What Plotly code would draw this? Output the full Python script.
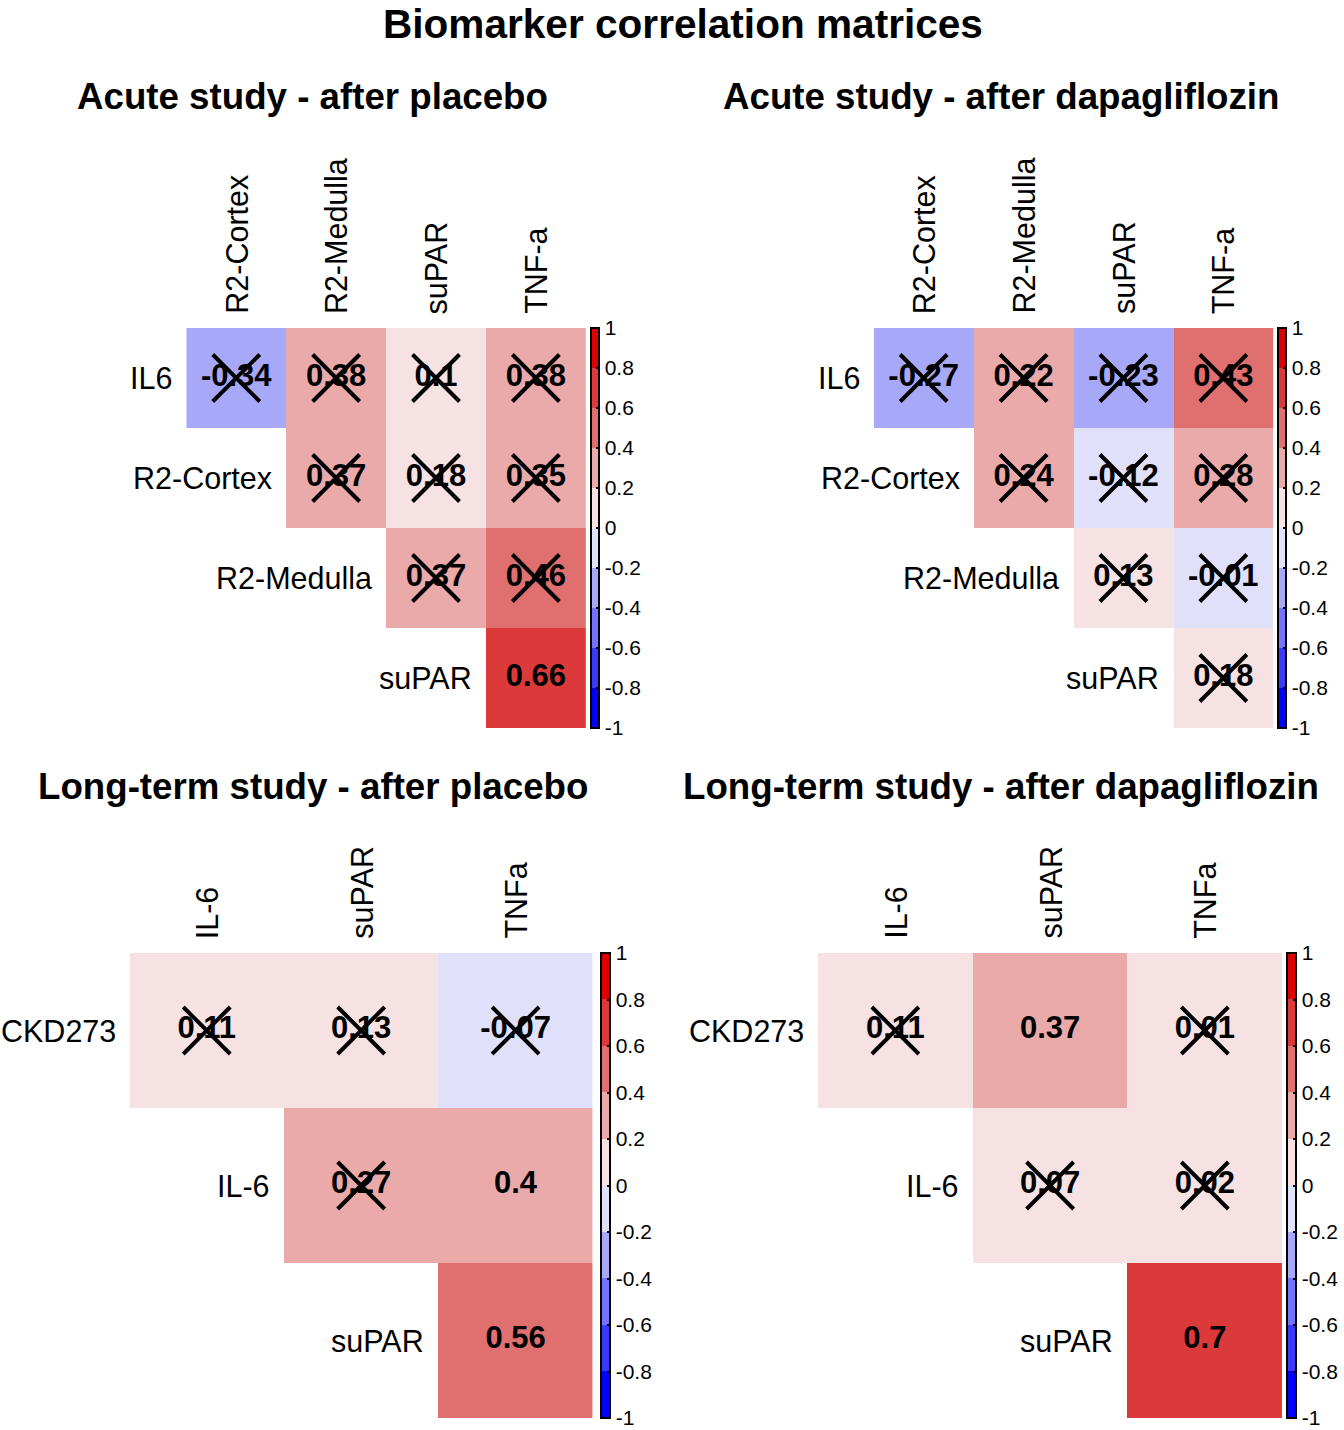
import plotly.graph_objects as go

# ---------------- data ----------------
acute_rows = ["IL6", "R2-Cortex", "R2-Medulla", "suPAR"]
acute_cols = ["R2-Cortex", "R2-Medulla", "suPAR", "TNF-a"]
long_rows = ["CKD273", "IL-6", "suPAR"]
long_cols = ["IL-6", "suPAR", "TNFa"]

acute_placebo_r = [[-0.34, 0.38, 0.1, 0.38],
                   [None, 0.37, 0.18, 0.35],
                   [None, None, 0.37, 0.46],
                   [None, None, None, 0.66]]
acute_placebo_sig = [[0, 0, 0, 0],
                     [None, 0, 0, 0],
                     [None, None, 0, 0],
                     [None, None, None, 1]]

acute_dapa_r = [[-0.27, 0.22, -0.23, 0.43],
                [None, 0.24, -0.12, 0.28],
                [None, None, 0.13, -0.01],
                [None, None, None, 0.18]]
acute_dapa_sig = [[0, 0, 0, 0],
                  [None, 0, 0, 0],
                  [None, None, 0, 0],
                  [None, None, None, 0]]

long_placebo_r = [[0.11, 0.13, -0.07],
                  [None, 0.27, 0.4],
                  [None, None, 0.56]]
long_placebo_sig = [[0, 0, 0],
                    [None, 0, 1],
                    [None, None, 1]]

long_dapa_r = [[0.11, 0.37, 0.01],
               [None, 0.07, 0.02],
               [None, None, 0.7]]
long_dapa_sig = [[0, 1, 0],
                 [None, 0, 0],
                 [None, None, 1]]

titles = ["Acute study - after placebo", "Acute study - after dapagliflozin",
          "Long-term study - after placebo", "Long-term study - after dapagliflozin"]
main_title = "Biomarker correlation matrices"
cbar_ticks = [1, 0.8, 0.6, 0.4, 0.2, 0, -0.2, -0.4, -0.6, -0.8, -1]
cbar_ticktext = ["1", "0.8", "0.6", "0.4", "0.2", "0", "-0.2", "-0.4", "-0.6", "-0.8", "-1"]

# ---------------- style ----------------
W, H = 1344, 1430
FONT = "Liberation Sans, Arial, Helvetica, sans-serif"
bin_colors = ["#0000FF", "#3A3AFF", "#7373FF", "#A8A8F8", "#E0E0FA",
              "#F6E2E2", "#EAAAAA", "#E07070", "#DC3A3A", "#DD0000"]
EPS = 1e-4
colorscale = []
for i, c in enumerate(bin_colors):
    colorscale.append([0.0 if i == 0 else i / 10 + EPS, c])
    colorscale.append([(i + 1) / 10, c])


def px(x):
    return x / W


def py(y):
    return 1 - y / H


panels = [
    dict(rows=acute_rows, cols=acute_cols, r=acute_placebo_r, sig=acute_placebo_sig,
         box=(187, 588, 328, 728), cbx=593, cbw=8, title_x=314, title_y=96),
    dict(rows=acute_rows, cols=acute_cols, r=acute_dapa_r, sig=acute_dapa_sig,
         box=(877, 1278, 328, 728), cbx=1283, cbw=8, title_x=1005, title_y=96),
    dict(rows=long_rows, cols=long_cols, r=long_placebo_r, sig=long_placebo_sig,
         box=(130, 595, 953, 1418), cbx=603, cbw=9, title_x=314, title_y=786),
    dict(rows=long_rows, cols=long_cols, r=long_dapa_r, sig=long_dapa_sig,
         box=(821, 1287, 953, 1418), cbx=1292, cbw=9, title_x=1005, title_y=786),
]

fig = go.Figure()
annotations = []
layout_axes = {}

for k, p in enumerate(panels):
    n = k + 1
    xa = "x" if n == 1 else f"x{n}"
    ya = "y" if n == 1 else f"y{n}"
    x0, x1, y0, y1 = p["box"]
    nr, nc = len(p["rows"]), len(p["cols"])
    xs = list(range(nc))
    ys = list(range(nr))

    fig.add_trace(go.Heatmap(
        z=p["r"], x=xs, y=ys, xaxis=xa, yaxis=ya,
        zmin=-1, zmax=1, colorscale=colorscale, hoverongaps=False,
        colorbar=dict(
            x=px(p["cbx"]), xanchor="left", xpad=0,
            y=py(y0), yanchor="top", ypad=0,
            len=(y1 - y0) / H, lenmode="fraction",
            thickness=p["cbw"], thicknessmode="pixels",
            outlinecolor="black", outlinewidth=2,
            tickvals=cbar_ticks, ticktext=cbar_ticktext,
            ticks="inside", ticklen=4, tickcolor="black", tickwidth=1.5,
            tickfont=dict(family=FONT, size=21, color="black"),
        ),
    ))

    tx, ty, tt, cx, cy = [], [], [], [], []
    for i in range(nr):
        for j in range(nc):
            v = p["r"][i][j]
            if v is None:
                continue
            tx.append(j); ty.append(i); tt.append(str(v))
            if p["sig"][i][j] == 0:
                cx.append(j); cy.append(i)

    fig.add_trace(go.Scatter(
        x=tx, y=ty, text=tt, mode="text", xaxis=xa, yaxis=ya,
        textfont=dict(family=FONT, size=31, color="black", weight="bold"),
        textposition="middle center", showlegend=False, hoverinfo="skip",
    ))
    fig.add_trace(go.Scatter(
        x=cx, y=cy, mode="markers", xaxis=xa, yaxis=ya,
        marker=dict(symbol="x-thin-open", size=47, color="black",
                    line=dict(width=4, color="black")),
        showlegend=False, hoverinfo="skip",
    ))

    axname_x = "xaxis" if n == 1 else f"xaxis{n}"
    axname_y = "yaxis" if n == 1 else f"yaxis{n}"
    layout_axes[axname_x] = dict(domain=[px(x0), px(x1)], range=[-0.5, nc - 0.5],
                                 showgrid=False, zeroline=False, showticklabels=False,
                                 ticks="", fixedrange=True, anchor=ya)
    layout_axes[axname_y] = dict(domain=[py(y1), py(y0)], range=[nr - 0.5, -0.5],
                                 showgrid=False, zeroline=False, showticklabels=False,
                                 ticks="", fixedrange=True, anchor=xa)

    # row labels (diagonal)
    for i, lab in enumerate(p["rows"]):
        annotations.append(dict(x=i - 0.5, y=i, xref=xa, yref=ya, text=lab,
                                showarrow=False, xanchor="right", yanchor="middle",
                                xshift=-12, font=dict(family=FONT, size=30.5, color="black")))
    # column labels (rotated)
    for j, lab in enumerate(p["cols"]):
        annotations.append(dict(x=j, y=-0.5, xref=xa, yref=ya, text=lab,
                                showarrow=False, textangle=-90, xanchor="center",
                                yanchor="bottom", yshift=12,
                                font=dict(family=FONT, size=30.5, color="black")))
    # panel title
    annotations.append(dict(x=px(p["title_x"]), y=py(p["title_y"]), xref="paper",
                            yref="paper", text=f"<b>{titles[k]}</b>", showarrow=False,
                            xanchor="center", yanchor="middle",
                            font=dict(family=FONT, size=36.7, color="black")))

annotations.append(dict(x=px(686), y=1, xref="paper", yref="paper",
                        text=f"<b>{main_title}</b>", showarrow=False,
                        xanchor="center", yanchor="top", borderpad=0,
                        font=dict(family=FONT, size=40.6, color="black")))

fig.update_layout(
    width=W, height=H,
    margin=dict(l=0, r=0, t=0, b=0),
    paper_bgcolor="white", plot_bgcolor="white",
    showlegend=False,
    annotations=annotations,
    **layout_axes,
)

fig.write_html("out.html",
               config={"displayModeBar": False},
               post_script="document.body.style.margin='0';document.body.style.overflow='hidden';")
